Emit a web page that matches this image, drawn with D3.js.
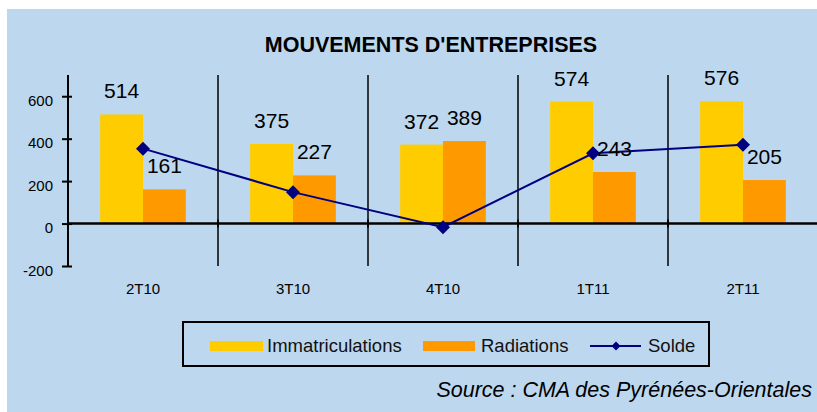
<!DOCTYPE html>
<html>
<head>
<meta charset="utf-8">
<script src="https://cdn.jsdelivr.net/npm/d3@7/dist/d3.min.js"></script>
<style>
  html, body { margin: 0; padding: 0; background: #ffffff; }
  svg { display: block; font-family: "Liberation Sans", Arial, sans-serif; }
</style>
</head>
<body>
<svg id="chart" width="817" height="412"></svg>
<script>
// ---- Data ----
const categories = ["2T10", "3T10", "4T10", "1T11", "2T11"];
const immatriculations = [514, 375, 372, 574, 576];
const radiations = [161, 227, 389, 243, 205];
const solde = [353, 148, -17, 331, 371];
const yTicks = [-200, 0, 200, 400, 600];
const seriesNames = ["Immatriculations", "Radiations", "Solde"];
const titleText = "MOUVEMENTS D'ENTREPRISES";
const sourceText = "Source : CMA des Pyrénées-Orientales";

// ---- Styles ----
const colYellow = "#FFCC00";
const colOrange = "#FF9900";
const colNavy = "#000080";
const colBg = "#BDD7EE";

const svg = d3.select("#chart");

// background
svg.append("rect").attr("x", 7).attr("y", 9).attr("width", 817 - 7).attr("height", 412 - 9).attr("fill", colBg);

// title
svg.append("text").attr("x", 431).attr("y", 52).attr("text-anchor", "middle")
  .attr("font-size", 21.5).attr("font-weight", "bold").attr("fill", "#000").text(titleText);

// scales
const plotLeft = 68, plotRight = 818;
const x = d3.scaleBand().domain(categories).range([plotLeft, plotRight]).paddingInner(0).paddingOuter(0);
const y = d3.scaleLinear().domain([-200, 700]).range([266, 75]);
const groupW = x.bandwidth() / 1.75;
const xs = d3.scaleBand().domain(["i", "r"]).range([0, groupW]);
const groupOff = (x.bandwidth() - groupW) / 2;

// vertical separators between categories
const seps = categories.slice(1);
svg.append("g").selectAll("line").data(seps).join("line")
  .attr("x1", d => x(d)).attr("x2", d => x(d))
  .attr("y1", y(700)).attr("y2", y(-200))
  .attr("stroke", "#000").attr("stroke-width", 1.5);

// bars
const gBars = svg.append("g");
gBars.selectAll("rect.i").data(categories).join("rect").attr("class", "i")
  .attr("x", d => x(d) + groupOff + xs("i"))
  .attr("width", xs.bandwidth())
  .attr("y", (d, i) => y(immatriculations[i]))
  .attr("height", (d, i) => y(0) - y(immatriculations[i]))
  .attr("fill", colYellow);
gBars.selectAll("rect.r").data(categories).join("rect").attr("class", "r")
  .attr("x", d => x(d) + groupOff + xs("r"))
  .attr("width", xs.bandwidth())
  .attr("y", (d, i) => y(radiations[i]))
  .attr("height", (d, i) => y(0) - y(radiations[i]))
  .attr("fill", colOrange);

// y axis
const yAxis = d3.axisLeft(y).tickValues(yTicks).tickFormat(d => String(d))
  .tickSizeInner(6).tickSizeOuter(0).tickPadding(9);
const gy = svg.append("g").attr("transform", `translate(${plotLeft},0)`).call(yAxis);
gy.select(".domain").remove();
gy.append("line").attr("x1", 0).attr("x2", 0).attr("y1", y(700)).attr("y2", y(-200))
  .attr("stroke", "#000").attr("stroke-width", 2);
gy.selectAll(".tick line").attr("x1", 4).attr("x2", -6).attr("stroke", "#000").attr("stroke-width", 2);
gy.selectAll(".tick text").attr("font-size", 15).attr("fill", "#000")
  .attr("font-family", "Liberation Sans, Arial, sans-serif").attr("dy", "0.6em");

// zero line
svg.append("line").attr("x1", plotLeft).attr("x2", 817).attr("y1", y(0)).attr("y2", y(0))
  .attr("stroke", "#000").attr("stroke-width", 2.5);
svg.append("g").selectAll("line").data(seps).join("line")
  .attr("x1", d => x(d)).attr("x2", d => x(d))
  .attr("y1", y(0) - 4).attr("y2", y(0) + 4)
  .attr("stroke", "#000").attr("stroke-width", 2);

// category labels
svg.append("g").selectAll("text").data(categories).join("text")
  .attr("x", d => x(d) + x.bandwidth() / 2).attr("y", 294)
  .attr("text-anchor", "middle").attr("font-size", 15).attr("fill", "#000").text(d => d);

// solde line
const cx = d => x(d) + x.bandwidth() / 2;
const line = d3.line().x((d, i) => cx(categories[i])).y(d => y(d));
svg.append("path").datum(solde).attr("d", line).attr("fill", "none")
  .attr("stroke", colNavy).attr("stroke-width", 2);
const diamond = d3.symbol().type(d3.symbolSquare).size(98);
svg.append("g").selectAll("path").data(solde).join("path")
  .attr("d", diamond())
  .attr("transform", (d, i) => `translate(${cx(categories[i])},${y(d)}) rotate(45)`)
  .attr("fill", colNavy);

// data labels
const gLab = svg.append("g").attr("font-size", 21).attr("fill", "#000").attr("text-anchor", "middle");
gLab.selectAll("text.i").data(immatriculations).join("text").attr("class", "i")
  .attr("x", (d, i) => x(categories[i]) + groupOff + xs("i") + xs.bandwidth() / 2)
  .attr("y", d => y(d) - 16).text(d => d);
gLab.selectAll("text.r").data(radiations).join("text").attr("class", "r")
  .attr("x", (d, i) => x(categories[i]) + groupOff + xs("r") + xs.bandwidth() / 2)
  .attr("y", d => y(d) - 16).text(d => d);

// legend
const lg = svg.append("g");
lg.append("rect").attr("x", 183).attr("y", 322).attr("width", 526).attr("height", 44)
  .attr("fill", "none").attr("stroke", "#000").attr("stroke-width", 2);
const legY = 346;
lg.append("rect").attr("x", 210).attr("y", 341).attr("width", 53).attr("height", 10).attr("fill", colYellow);
lg.append("text").attr("x", 267).attr("y", 352).attr("font-size", 18.5).attr("fill", "#111").text(seriesNames[0]);
lg.append("rect").attr("x", 423).attr("y", 341).attr("width", 52).attr("height", 10).attr("fill", colOrange);
lg.append("text").attr("x", 481).attr("y", 352).attr("font-size", 18.5).attr("fill", "#111").text(seriesNames[1]);
lg.append("line").attr("x1", 590).attr("x2", 641).attr("y1", legY).attr("y2", legY)
  .attr("stroke", colNavy).attr("stroke-width", 2);
lg.append("path").attr("d", d3.symbol().type(d3.symbolSquare).size(40)())
  .attr("transform", `translate(616,${legY}) rotate(45)`).attr("fill", colNavy);
lg.append("text").attr("x", 648).attr("y", 352).attr("font-size", 18.5).attr("fill", "#111").text(seriesNames[2]);

// source
svg.append("text").attr("x", 812).attr("y", 397).attr("text-anchor", "end")
  .attr("font-size", 21.5).attr("font-style", "italic").attr("fill", "#000").text(sourceText);
</script>
</body>
</html>
